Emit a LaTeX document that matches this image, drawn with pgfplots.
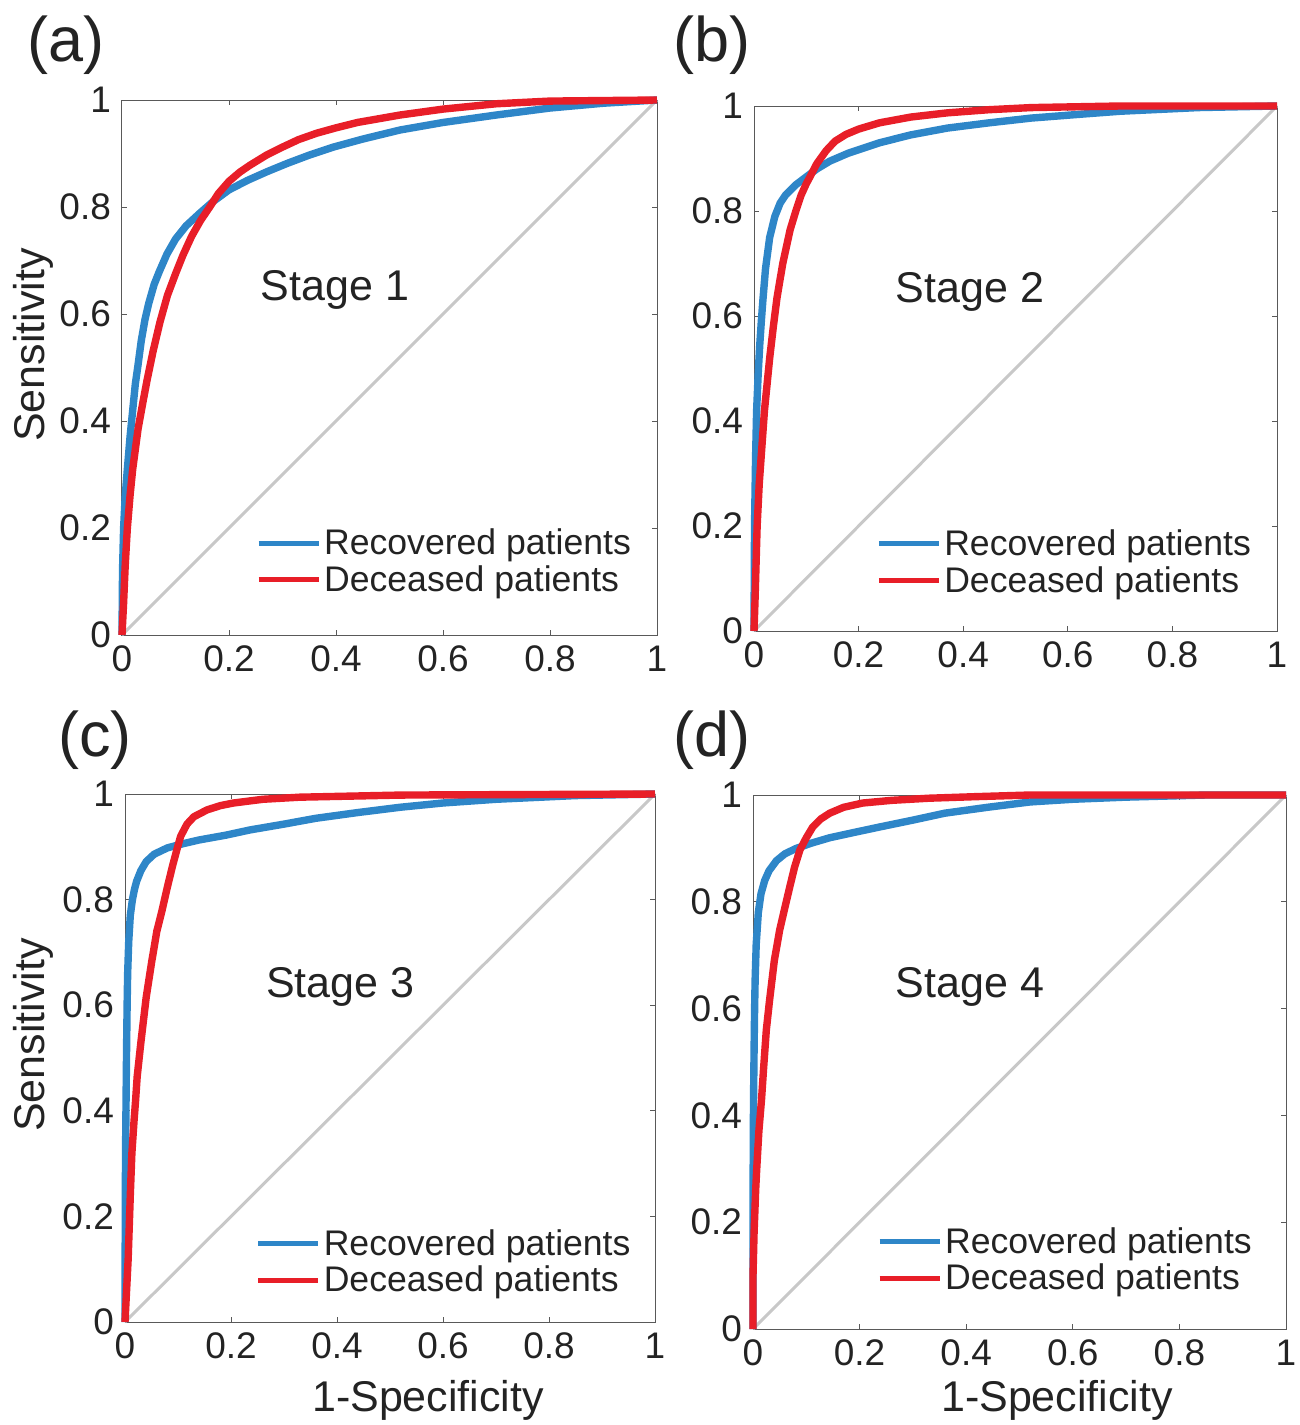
\documentclass[border=0pt]{standalone}
\usepackage{fontspec}
\setmainfont{Liberation Sans}
\usepackage{pgfplots}
\pgfplotsset{compat=1.18}

\definecolor{recblue}{RGB}{46,134,200}
\definecolor{decred}{RGB}{232,30,40}
\definecolor{diaggray}{RGB}{200,200,200}
\definecolor{txt}{RGB}{35,35,35}

\pgfplotsset{
  rocpanel/.style={
    scale only axis, anchor=south west,
    xmin=0, xmax=1, ymin=0, ymax=1,
    xtick={0,0.2,...,1}, ytick={0,0.2,...,1},
    tick align=inside, major tick length=2.5pt,
    axis line style={draw=black!65, line width=0.5pt},
    every tick/.style={black!65, line width=0.5pt},
    tick label style={font=\fontsize{18.5}{20}\selectfont, text=txt},
    /pgf/number format/assume math mode=true,
    xticklabel style={yshift=-2pt}, yticklabel style={xshift=-2pt},
    clip=false,
    legend cell align=left,
    legend style={draw=none, fill=none, inner sep=0pt, row sep=1pt,
      font=\fontsize{17.8}{18.5}\selectfont, text=txt,
      nodes={inner sep=1.5pt}},
    legend image code/.code={\draw[#1,line width=2.5pt] (0pt,0pt) -- (30pt,0pt);},
  },
  roc/.style={line width=3.7pt, line join=round},
}

\begin{document}
\begin{tikzpicture}
\path[use as bounding box] (0pt,0pt) rectangle (650pt,-712.5pt);

% (a) stage 1
\begin{axis}[rocpanel, at={(61pt,-317.5pt)}, width=267.5pt, height=267.5pt,
  legend style={at={(axis cs:0.25,0.205)}, anchor=north west}]
\addplot[diaggray, line width=1.5pt, forget plot] coordinates {(0,0) (1,1)};
\addplot[roc, recblue] coordinates {
(0,0) (0.001,0.12) (0.003,0.2) (0.006,0.26) (0.01,0.31) (0.015,0.37) (0.02,0.42)
(0.025,0.47) (0.03,0.505) (0.036,0.55) (0.043,0.59) (0.05,0.62) (0.06,0.655)
(0.07,0.68) (0.084,0.712) (0.1,0.74) (0.12,0.765) (0.146,0.789) (0.17,0.81)
(0.2,0.832) (0.235,0.85) (0.271,0.866) (0.31,0.882) (0.35,0.897) (0.395,0.912)
(0.45,0.927) (0.52,0.944) (0.6,0.958) (0.7,0.972) (0.8,0.985) (0.9,0.994) (1,1)};
\addlegendentry{Recovered patients}
\addplot[roc, decred] coordinates {
(0,0) (0.003,0.06) (0.006,0.13) (0.01,0.2) (0.015,0.26) (0.02,0.31) (0.03,0.385)
(0.04,0.44) (0.047,0.477) (0.058,0.53) (0.071,0.585) (0.085,0.635) (0.1,0.675)
(0.114,0.71) (0.13,0.745) (0.147,0.775) (0.164,0.80) (0.18,0.825) (0.2,0.848)
(0.22,0.865) (0.239,0.878) (0.27,0.897) (0.3,0.912) (0.33,0.926) (0.364,0.938)
(0.4,0.948) (0.44,0.958) (0.52,0.972) (0.6,0.983) (0.7,0.993) (0.8,0.998) (1,1)};
\addlegendentry{Deceased patients}
\node[font=\fontsize{21.5}{24}\selectfont, text=txt] at (axis cs:0.398,0.645) {Stage 1};
\end{axis}

% (b) stage 2
\begin{axis}[rocpanel, at={(377pt,-315.5pt)}, width=261.5pt, height=262.5pt,
  legend style={at={(axis cs:0.233,0.20)}, anchor=north west}]
\addplot[diaggray, line width=1.5pt, forget plot] coordinates {(0,0) (1,1)};
\addplot[roc, recblue] coordinates {
(0,0) (0.001,0.2) (0.003,0.33) (0.005,0.42) (0.008,0.49) (0.011,0.545) (0.014,0.59)
(0.017,0.63) (0.022,0.69) (0.03,0.75) (0.04,0.79) (0.05,0.815) (0.06,0.83)
(0.08,0.85) (0.1,0.865) (0.12,0.88) (0.145,0.895) (0.18,0.91) (0.24,0.93)
(0.3,0.945) (0.37,0.958) (0.45,0.968) (0.53,0.977) (0.62,0.984) (0.7,0.99)
(0.85,0.997) (1,1)};
\addlegendentry{Recovered patients}
\addplot[roc, decred] coordinates {
(0,0) (0.002,0.06) (0.004,0.13) (0.006,0.2) (0.01,0.28) (0.015,0.35) (0.02,0.42)
(0.025,0.47) (0.03,0.52) (0.037,0.58) (0.044,0.635) (0.055,0.7) (0.069,0.764)
(0.08,0.8) (0.09,0.83) (0.1,0.852) (0.107,0.865) (0.12,0.89) (0.138,0.915)
(0.155,0.933) (0.176,0.946) (0.2,0.956) (0.24,0.968) (0.3,0.979) (0.37,0.987)
(0.45,0.993) (0.53,0.997) (0.7,1) (1,1)};
\addlegendentry{Deceased patients}
\node[font=\fontsize{21.5}{24}\selectfont, text=txt] at (axis cs:0.413,0.646) {Stage 2};
\end{axis}

% (c) stage 3
\begin{axis}[rocpanel, at={(62.5pt,-661pt)}, width=265pt, height=264pt,
  legend style={at={(axis cs:0.246,0.182)}, anchor=north west}]
\addplot[diaggray, line width=1.5pt, forget plot] coordinates {(0,0) (1,1)};
\addplot[roc, recblue] coordinates {
(0,0) (0.0005,0.2) (0.001,0.32) (0.002,0.42) (0.003,0.52) (0.004,0.6) (0.005,0.66)
(0.007,0.72) (0.01,0.77) (0.014,0.8) (0.018,0.82) (0.022,0.835) (0.03,0.855)
(0.04,0.872) (0.055,0.886) (0.08,0.898) (0.11,0.906) (0.14,0.913) (0.19,0.922)
(0.236,0.932) (0.3,0.943) (0.36,0.954) (0.44,0.965) (0.52,0.975) (0.6,0.983)
(0.7,0.99) (0.85,0.997) (1,1)};
\addlegendentry{Recovered patients}
\addplot[roc, decred] coordinates {
(0,0) (0.003,0.06) (0.006,0.12) (0.01,0.24) (0.013,0.32) (0.017,0.38) (0.02,0.42)
(0.023,0.465) (0.03,0.53) (0.04,0.615) (0.05,0.68) (0.06,0.74) (0.07,0.78)
(0.08,0.824) (0.09,0.865) (0.098,0.895) (0.105,0.92) (0.117,0.943) (0.13,0.957)
(0.155,0.97) (0.18,0.978) (0.205,0.983) (0.26,0.99) (0.33,0.994) (0.52,0.998) (1,1)};
\addlegendentry{Deceased patients}
\node[font=\fontsize{21.5}{24}\selectfont, text=txt] at (axis cs:0.406,0.634) {Stage 3};
\end{axis}

% (d) stage 4
\begin{axis}[rocpanel, at={(376.5pt,-664.5pt)}, width=266.5pt, height=267pt,
  legend style={at={(axis cs:0.232,0.197)}, anchor=north west}]
\addplot[diaggray, line width=1.5pt, forget plot] coordinates {(0,0) (1,1)};
\addplot[roc, recblue] coordinates {
(0,0) (0,0.2) (0.0005,0.35) (0.001,0.43) (0.002,0.52) (0.003,0.6) (0.004,0.654)
(0.006,0.72) (0.01,0.78) (0.015,0.815) (0.022,0.84) (0.03,0.858) (0.044,0.877)
(0.06,0.89) (0.081,0.9) (0.11,0.91) (0.144,0.92) (0.19,0.93) (0.237,0.94)
(0.3,0.953) (0.36,0.966) (0.44,0.977) (0.52,0.987) (0.6,0.992) (0.7,0.996)
(0.85,1) (1,1)};
\addlegendentry{Recovered patients}
\addplot[roc, decred] coordinates {
(0,0) (0,0.1) (0.002,0.18) (0.005,0.26) (0.007,0.30) (0.011,0.37) (0.016,0.43)
(0.02,0.49) (0.025,0.56) (0.031,0.615) (0.04,0.69) (0.05,0.747) (0.06,0.79)
(0.069,0.828) (0.078,0.865) (0.088,0.897) (0.1,0.92) (0.112,0.94) (0.127,0.955)
(0.144,0.966) (0.17,0.977) (0.206,0.985) (0.26,0.99) (0.33,0.994) (0.42,0.997)
(0.52,1) (1,1)};
\addlegendentry{Deceased patients}
\node[font=\fontsize{21.5}{24}\selectfont, text=txt] at (axis cs:0.407,0.64) {Stage 4};
\end{axis}

% panel letters and shared labels
\begin{scope}[every node/.style={text=txt}]
\node[font=\fontsize{31.5}{34}\selectfont] at (33pt,-22.5pt) {(a)};
\node[font=\fontsize{31.5}{34}\selectfont] at (356pt,-22.5pt) {(b)};
\node[font=\fontsize{31.5}{34}\selectfont] at (47.5pt,-370pt) {(c)};
\node[font=\fontsize{31.5}{34}\selectfont] at (356pt,-370pt) {(d)};
\node[font=\fontsize{21.5}{24}\selectfont, rotate=90] at (16.5pt,-172.5pt) {Sensitivity};
\node[font=\fontsize{21.5}{24}\selectfont, rotate=90] at (16.5pt,-517.5pt) {Sensitivity};
\node[font=\fontsize{21.5}{24}\selectfont] at (214pt,-700pt) {1-Specificity};
\node[font=\fontsize{21.5}{24}\selectfont] at (528.5pt,-700pt) {1-Specificity};
\end{scope}
\end{tikzpicture}
\end{document}
